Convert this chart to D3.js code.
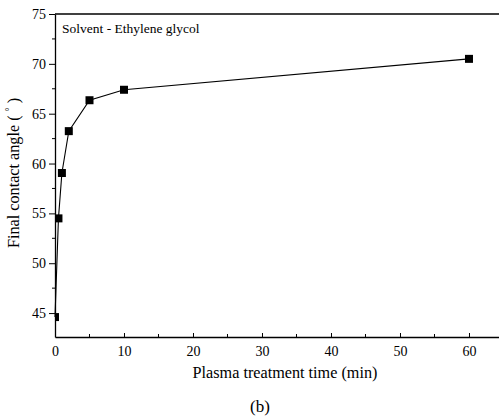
<!DOCTYPE html>
<html lang="en">
	<head>
		<meta charset="utf-8">
		<title>Final contact angle</title>
		<script type="text/javascript" src="https://cdn.jsdelivr.net/npm/d3@7"></script>
		<style type="text/css">
			* { margin: 0; padding: 0; }
			body { background-color: white; }
			svg { display: block; }
			text { font-family: "Liberation Serif", "DejaVu Serif", serif; fill: black; }
		</style>
	</head>
	<body>
		<script type="text/javascript">

			//Data
			var times = [0, 0.5, 1, 2, 5, 10, 60];
			var angles = [44.6, 54.5, 59.05, 63.25, 66.35, 67.4, 70.5];
			var xTicks = [0, 10, 20, 30, 40, 50, 60];
			var yTicks = [45, 50, 55, 60, 65, 70, 75];

			var w = 499;
			var h = 416;
			var margin = {top: 14, right: 0, bottom: 79, left: 55};
			var serif = "Liberation Serif, DejaVu Serif, serif";

			var svg = d3.select("body")
				.append("svg")
				.attr("width", w)
				.attr("height", h);

			var xScale = d3.scaleLinear()
				.domain([0, 64.35])
				.range([margin.left, w - margin.right]);

			var yScale = d3.scaleLinear()
				.domain([42.6, 75])
				.range([h - margin.bottom, margin.top]);

			//minor ticks
			var xMinor = d3.range(5, 65, 10);
			var yMinor = d3.range(47.5, 75, 5);

			//x axis, ticks pointing inward
			svg.append("g")
				.attr("transform", "translate(0," + (h - margin.bottom) + ")")
				.call(d3.axisBottom(xScale).tickValues(xTicks).tickSizeInner(-4).tickSizeOuter(0).tickPadding(9))
				.attr("font-family", serif)
				.attr("font-size", 14)
				.call(function(g) { g.select(".domain").attr("stroke-width", 1.3); });

			svg.append("g")
				.attr("transform", "translate(0," + (h - margin.bottom) + ")")
				.selectAll("line")
				.data(xMinor)
				.enter().append("line")
				.attr("x1", function(d) { return xScale(d); })
				.attr("x2", function(d) { return xScale(d); })
				.attr("y1", 0)
				.attr("y2", -3)
				.attr("stroke", "black");

			//top line
			svg.append("line")
				.attr("x1", xScale(0))
				.attr("x2", w)
				.attr("y1", yScale(75))
				.attr("y2", yScale(75))
				.attr("stroke", "black")
				.attr("stroke-width", 1.3);

			//y axis, ticks pointing out
			svg.append("g")
				.attr("transform", "translate(" + margin.left + ",0)")
				.call(d3.axisLeft(yScale).tickValues(yTicks).tickSizeInner(6).tickSizeOuter(0).tickPadding(3))
				.attr("font-family", serif)
				.attr("font-size", 14)
				.call(function(g) { g.select(".domain").attr("stroke-width", 1.3); });

			svg.append("g")
				.attr("transform", "translate(" + margin.left + ",0)")
				.selectAll("line")
				.data(yMinor)
				.enter().append("line")
				.attr("x1", 0)
				.attr("x2", -3)
				.attr("y1", function(d) { return yScale(d); })
				.attr("y2", function(d) { return yScale(d); })
				.attr("stroke", "black");

			//series
			var pts = times.map(function(t, i) { return {t: t, a: angles[i]}; });

			var line = d3.line()
				.x(function(d) { return xScale(d.t); })
				.y(function(d) { return yScale(d.a); });

			svg.append("path")
				.datum(pts)
				.attr("d", line)
				.attr("fill", "none")
				.attr("stroke", "black")
				.attr("stroke-width", 1.1);

			var s = 8;
			svg.append("g")
				.selectAll("rect")
				.data(pts)
				.enter().append("rect")
				.attr("x", function(d) { return Math.max(xScale(d.t) - s / 2, margin.left); })
				.attr("y", function(d) { return yScale(d.a) - s / 2; })
				.attr("width", function(d) { return Math.min(s, xScale(d.t) + s / 2 - margin.left); })
				.attr("height", s)
				.attr("fill", "black");

			//label inside plot
			svg.append("text")
				.attr("x", 62)
				.attr("y", 33)
				.attr("font-size", 13.5)
				.text("Solvent - Ethylene glycol");

			//axis titles
			svg.append("text")
				.attr("x", 285)
				.attr("y", 378)
				.attr("text-anchor", "middle")
				.attr("font-size", 16.2)
				.text("Plasma treatment time (min)");

			var yt = svg.append("text")
				.attr("transform", "translate(19," + 173 + ") rotate(-90)")
				.attr("text-anchor", "middle")
				.attr("font-size", 16.2);
			yt.append("tspan").text("Final contact angle ( ");
			yt.append("tspan").attr("dy", -6).attr("font-size", 10).text("°");
			yt.append("tspan").attr("dy", 6).text(" )");

			svg.append("text")
				.attr("x", 260)
				.attr("y", 412)
				.attr("text-anchor", "middle")
				.attr("font-size", 17)
				.text("(b)");

		</script>
	</body>
</html>
